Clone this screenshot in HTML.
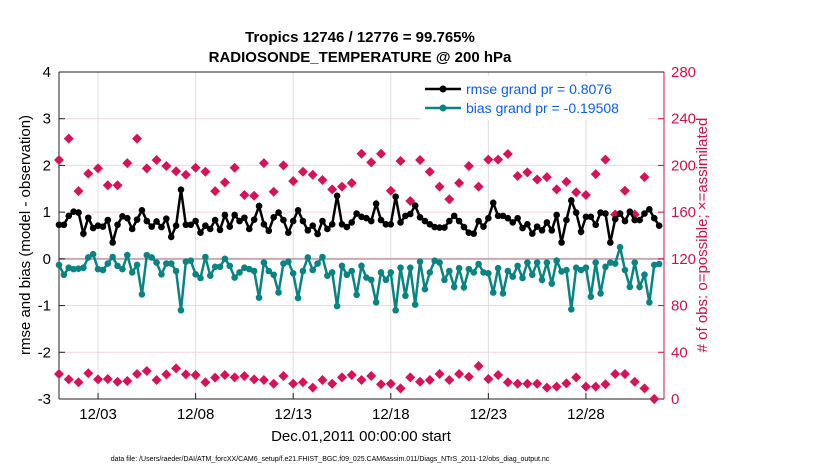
<!DOCTYPE html>
<html><head><meta charset="utf-8"><style>
body{margin:0;background:#fff;}
svg{display:block;font-family:"Liberation Sans",sans-serif;}
</style></head><body>
<svg id="chart" width="830" height="470" viewBox="0 0 830 470">
<rect width="830" height="470" fill="#fff"/>
<g id="grid"></g>
<g id="axes"></g>
<g id="marks"></g>
<text x="360" y="42" text-anchor="middle" font-weight="bold" font-size="15">Tropics 12746 / 12776 = 99.765%</text>
<text x="360" y="62" text-anchor="middle" font-weight="bold" font-size="15">RADIOSONDE_TEMPERATURE @ 200 hPa</text>
<text transform="translate(30,235) rotate(-90)" text-anchor="middle" font-size="15">rmse and bias (model - observation)</text>
<text transform="translate(707,235) rotate(-90)" text-anchor="middle" font-size="15" fill="#d0104c"># of obs: o=possible; ×=assimilated</text>
<text x="361" y="441" text-anchor="middle" font-size="15">Dec.01,2011 00:00:00 start</text>
<text x="330" y="461" text-anchor="middle" font-size="7">data file: /Users/raeder/DAI/ATM_forcXX/CAM6_setup/f.e21.FHIST_BGC.f09_025.CAM6assim.011/Diags_NTrS_2011-12/obs_diag_output.nc</text>
<g>
<rect x="420" y="76" width="228" height="44" fill="#fff"/>
<line x1="425" y1="89" x2="461" y2="89" stroke="#000" stroke-width="2.5"/>
<circle cx="443" cy="89" r="3.5" fill="#000"/>
<text x="466" y="94" font-size="14" fill="#0b5ef0">rmse grand pr = 0.8076</text>
<line x1="425" y1="108" x2="461" y2="108" stroke="#0a8383" stroke-width="2.5"/>
<circle cx="443" cy="108" r="3.5" fill="#0a8383"/>
<text x="466" y="113" font-size="14" fill="#0b5ef0">bias grand pr = -0.19508</text>
</g>
</svg>
<script>
const rmse=[0.73,0.73,0.92,1.01,0.99,0.54,0.88,0.66,0.71,0.69,0.83,0.35,0.73,0.91,0.87,0.64,0.84,1.04,0.81,0.69,0.80,0.68,0.86,0.47,0.71,1.48,0.73,0.73,0.81,0.56,0.71,0.64,0.83,0.62,0.94,0.69,0.94,0.81,0.88,0.64,0.84,1.13,
0.74,0.60,0.89,0.99,0.83,0.56,0.81,1.04,0.81,0.61,0.71,0.53,0.81,0.64,0.74,1.35,0.74,0.68,0.78,0.97,0.90,0.87,0.81,1.18,0.83,0.74,0.74,1.33,0.78,0.92,0.96,1.14,0.89,0.81,0.74,0.68,0.67,0.67,0.81,0.92,0.81,0.68,0.56,
0.54,0.81,0.69,0.87,1.20,0.92,0.92,0.87,0.78,0.87,0.66,0.74,0.54,0.69,0.61,0.78,0.61,0.94,0.35,0.83,1.25,0.99,0.58,0.90,0.90,0.73,0.99,0.97,0.35,0.85,0.97,0.81,1.01,0.83,0.83,0.97,1.06,0.87,0.71];
const bias=[-0.13,-0.34,-0.19,-0.22,-0.21,-0.19,0.03,0.10,-0.22,-0.24,-0.10,0.04,-0.15,-0.22,0.08,-0.29,-0.13,-0.76,0.08,0.03,-0.08,-0.33,-0.10,-0.10,-0.26,-1.10,-0.06,-0.04,-0.33,-0.41,0.04,-0.36,-0.17,-0.17,0.00,-0.15,-0.40,-0.29,-0.19,-0.22,-0.26,-0.83,
-0.08,-0.26,-0.34,-0.72,-0.10,-0.06,-0.31,-0.84,-0.26,0.03,-0.24,-0.10,0.04,-0.36,-0.29,-1.01,-0.15,-0.34,-0.26,-0.77,-0.15,-0.40,-0.45,-0.93,-0.29,-0.45,-0.29,-1.10,-0.19,-0.79,-0.19,-0.98,-0.06,-0.65,-0.29,-0.04,-0.08,-0.45,-0.26,-0.60,-0.20,-0.61,-0.22,
-0.29,-0.11,-0.29,-0.31,-0.72,-0.20,-0.74,-0.26,-0.38,-0.15,-0.41,-0.08,-0.34,-0.08,-0.45,-0.08,-0.53,-0.04,-0.27,-0.24,-1.08,-0.19,-0.24,-0.19,-0.81,-0.08,-0.74,-0.17,-0.08,-0.10,0.25,-0.24,-0.60,-0.08,-0.60,-0.34,-0.93,-0.13,-0.11];
const obsPossible=[204.6,223,178,193,197.5,183,183,202,223,197.5,204.6,199.5,195,192,198,194.6,178,185.5,198,174.7,174,202,
177.5,200,186.6,194.6,192,187.5,179.5,181.8,185,210,202.6,210,178.3,203.8,169.5,204.6,194.6,181.8,171,185,
199.5,181.8,205,205,209.8,191,194,188,190,179.5,186,177,174.7,192.6,205,158,178.3,158,190,0];
const obsAssim=[21.4,16.8,14.3,22,16.8,17.1,14.8,15.4,21.4,24,16.3,21.1,26.2,21.1,20.5,14.3,18.3,20.5,18.5,19.7,16.8,16.3,13.1,19.7,13.1,14.3,9.7,16.3,13.1,18.5,20.5,16.3,
19.7,12.6,13.1,9.1,18.5,14.8,16.3,21.4,16.3,21.4,19.1,28.3,17.1,20.5,14.3,13.1,13.1,13.1,9.7,10.6,13.4,18.5,10.6,10.6,12.6,21.4,21.4,14.8,9.1,0];
const xTicks=[3,8,13,18,23,28];
const xTickLabels=["12/03","12/08","12/13","12/18","12/23","12/28"];
const yLeftTicks=[4,3,2,1,0,-1,-2,-3];
const yRightTicks=[0,40,80,120,160,200,240,280];

const L=59,R=664,T=72,B=399;
const X=d=>L+(d-1)/31*(R-L);
const YL=v=>B-(v+3)/7*(B-T);
const YR=v=>B-v/280*(B-T);
const NS="http://www.w3.org/2000/svg";
function mk(tag,attrs,parent){const e=document.createElementNS(NS,tag);for(const k in attrs)e.setAttribute(k,attrs[k]);parent.appendChild(e);return e;}
const grid=document.getElementById('grid'),axes=document.getElementById('axes'),marks=document.getElementById('marks');

yRightTicks.forEach(v=>{const l=mk('line',{x1:L,x2:R,y1:YR(v),y2:YR(v),stroke:'#f2d3dc','stroke-width':1},grid);

});
xTicks.forEach((d,i)=>{const l=mk('line',{x1:X(d),x2:X(d),y1:T,y2:B,stroke:'#dedede','stroke-width':1},grid);


const t=mk('line',{x1:X(d),x2:X(d),y1:B,y2:B-6,stroke:'#222'},axes);


const tx=mk('text',{x:X(d),y:419,'text-anchor':'middle','font-size':15},axes);tx.textContent=xTickLabels[i];

});
const zl=mk('line',{x1:L,x2:R,y1:YL(0),y2:YL(0),stroke:'#c9a9b2','stroke-width':2},grid);



yLeftTicks.forEach(v=>{const t=mk('text',{x:51,y:YL(v)+5,'text-anchor':'end','font-size':15},axes);t.textContent=v;


const k=mk('line',{x1:L,x2:L+6,y1:YL(v),y2:YL(v),stroke:'#222'},axes);

});
yRightTicks.forEach(v=>{const t=mk('text',{x:671,y:YR(v)+5,'font-size':15,fill:'#d0104c'},axes);t.textContent=v;


const k=mk('line',{x1:R-6,x2:R,y1:YR(v),y2:YR(v),stroke:'#d0104c'},axes);

});
const la=mk('line',{x1:L,x2:L,y1:T,y2:B,stroke:'#222'},axes);


const ra=mk('line',{x1:R,x2:R,y1:T,y2:B,stroke:'#d0104c'},axes);


const ba=mk('line',{x1:L,x2:R,y1:B,y2:B,stroke:'#222'},axes);


const ta=mk('line',{x1:L,x2:R,y1:T,y2:T,stroke:'#222'},axes);



function obsMarker(d,v,name){
 const cx=X(d),cy=YR(v),s=5;
 const p=mk('polygon',{points:`${cx},${cy-s} ${cx+s},${cy} ${cx},${cy+s} ${cx-s},${cy}`,fill:'#d8125a'},marks);
 
 
 const c=mk('circle',{cx:cx,cy:cy,r:3.3,fill:'#d8125a'},marks);
 
 
}
obsPossible.forEach((v,i)=>obsMarker(1+i*0.5,v,'obs-possible-marker'));
obsAssim.forEach((v,i)=>obsMarker(1+i*0.5,v,'obs-assimilated-marker'));

function series(vals,color,name){
 const pts=vals.map((v,i)=>[X(1+i*0.25),YL(v)]);
 const pl=mk('polyline',{points:pts.map(p=>p.join(',')).join(' '),fill:'none',stroke:color,'stroke-width':2.5},marks);
 
 
 pts.forEach(p=>{const c=mk('circle',{cx:p[0],cy:p[1],r:3.3,fill:color},marks);
 
 });
}
series(bias,'#0a8383','bias');
series(rmse,'#000','rmse');
</script>
</body></html>
